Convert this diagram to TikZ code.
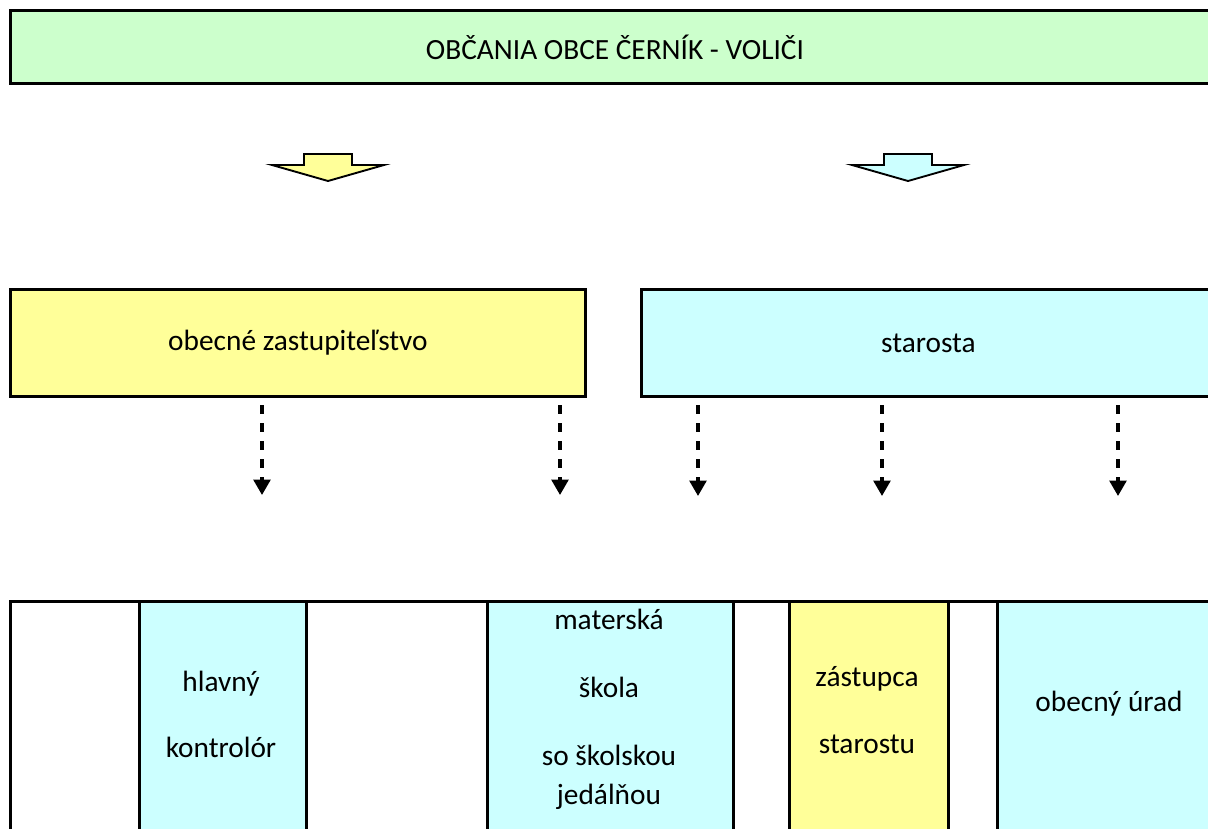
\documentclass[tikz,border=0pt]{standalone}
\usepackage{fontspec}
\setmainfont{Carlito}
\usetikzlibrary{positioning,arrows.meta}
\definecolor{votergreen}{HTML}{CCFFCC}
\definecolor{councilyellow}{HTML}{FFFF99}
\definecolor{mayorcyan}{HTML}{CCFFFF}

\begin{document}
\begin{tikzpicture}[x=0.75pt, y=-0.75pt,
    box/.style={rectangle, draw, line width=2.2pt, inner sep=0pt, anchor=north west, font=\fontsize{22}{26}\selectfont},
    line/.style={anchor=base, font=\fontsize{22}{26}\selectfont},
    flow/.style={-{Triangle[width=12.5pt,length=11.5pt]}, dash pattern=on 6.4pt off 7.1pt, line width=2.5pt, shorten <=5.5pt},
    bigarrow/.style={draw, line width=1.4pt, line join=miter}]

    \useasboundingbox (0,0) rectangle (1208,829);
    \clip (0,0) rectangle (1208,829);

    % voters
    \node[box, fill=votergreen, minimum width=906.75pt, minimum height=54.75pt] (voters) at (9,9) {OBČANIA OBCE ČERNÍK - VOLIČI};

    % block arrows
    \draw[bigarrow, fill=councilyellow] (304,154) -- (352,154) -- (352,165) -- (384,165) -- (328,181) -- (272,165) -- (304,165) -- cycle;
    \draw[bigarrow, fill=mayorcyan] (884,154) -- (932,154) -- (932,165) -- (964,165) -- (908,181) -- (852,165) -- (884,165) -- cycle;

    % council and mayor
    \node[box, fill=councilyellow, minimum width=431.25pt, minimum height=80.25pt] (council) at (9,288) {obecné zastupiteľstvo};
    \node[box, fill=mayorcyan, minimum width=430.5pt, minimum height=80.25pt] (mayor) at (640,288) {starosta};

    \coordinate (t1) at (262,495);
    \coordinate (t2) at (560,495);
    \coordinate (t3) at (698,496);
    \coordinate (t4) at (882,496);
    \coordinate (t5) at (1118,496);

    \draw[flow] (council.south -| t1) -- (t1);
    \draw[flow] (council.south -| t2) -- (t2);
    \draw[flow] (mayor.south -| t3) -- (t3);
    \draw[flow] (mayor.south -| t4) -- (t4);
    \draw[flow] (mayor.south -| t5) -- (t5);

    % bottom row
    \node[box, minimum width=908.25pt, minimum height=225pt] (row) at (9,600) {};
    \node[box, fill=mayorcyan, minimum width=125.25pt, minimum height=225pt] (control) at (138,600) {};
    \node[box, fill=mayorcyan, minimum width=184.5pt, minimum height=225pt] (school) at (486,600) {};
    \node[box, fill=councilyellow, minimum width=119.25pt, minimum height=225pt] (deputy) at (788,600) {};
    \node[box, fill=mayorcyan, minimum width=169.5pt, minimum height=225pt] (office) at (996,600) {};

    \node[line] (control1) at (221,691) {hlavný};
    \node[line] (control2) at (221,757) {kontrolór};

    \node[line] (school1) at (609,629) {materská};
    \node[line] (school2) at (609,697) {škola};
    \node[line] (school3) at (609,765) {so školskou};
    \node[line] (school4) at (609,804) {jedálňou};

    \node[line] (deputy1) at (867,686) {zástupca};
    \node[line] (deputy2) at (867,753) {starostu};

    \node[line] (office1) at (1109,711) {obecný úrad};
\end{tikzpicture}
\end{document}
